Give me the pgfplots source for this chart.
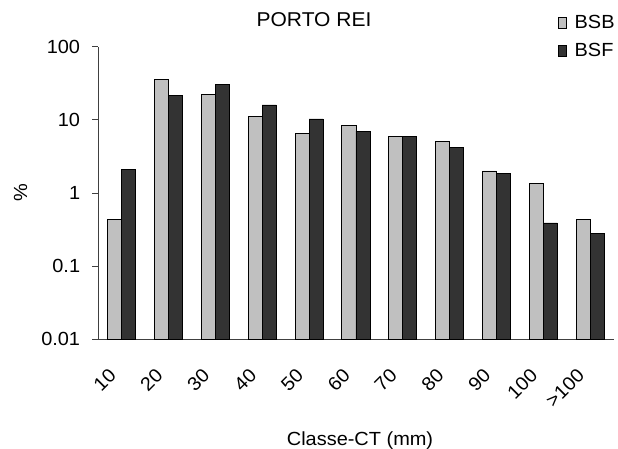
\documentclass[border=0pt]{standalone}
\usepackage{fontspec}
\setmainfont{Liberation Sans}[FakeStretch=1.05]
\usepackage{pgfplots}
\pgfplotsset{compat=1.18}
\newcommand\cf{\fontsize{19}{22}\selectfont}
\definecolor{bsb}{HTML}{C0C0C0}
\definecolor{bsf}{HTML}{333333}

\begin{document}
\begin{tikzpicture}
\begin{axis}[
  name=ax,
  width=515.2pt, height=292.6pt, scale only axis,
  ybar=0pt, bar width=0.3,
  ymode=log, log origin=infty,
  ymin=0.01, ymax=100,
  ytick={0.01,0.1,1,10,100},
  yticklabels={0.01,0.1,1,10,100},
  yminorticks=false,
  xmin=-0.5, xmax=10.5,
  xtick={0,...,10},
  xticklabels={10,20,30,40,50,60,70,80,90,100,>100},
  minor xtick={-0.5,0.5,...,10.5},
  xtick style={draw=none},
  minor tick length=6pt, major tick length=6pt,
  tick align=outside,
  axis lines*=left,
  axis line style={black!75, line width=0.8pt},
  every tick/.style={black!75, line width=0.8pt},
  /pgf/number format/assume math mode=true,
  tick label style={font=\cf},
  yticklabel style={inner sep=0pt, xshift=-12pt},
  xticklabel style={inner sep=0pt, xshift=-14pt, yshift=-22pt, rotate=45, anchor=north east},
  title={PORTO REI},
  title style={font=\fontsize{20}{23}\selectfont, at={(axis description cs:0.4187,1)}, anchor=base, yshift=14pt},
  xlabel={Classe-CT (mm)},
  xlabel style={font=\cf, at={(axis description cs:0.508,0)}, anchor=base, yshift=-105.7pt},
  ylabel={\%},
  ylabel style={font=\cf, at={(axis description cs:-0.151,0.5)}, anchor=center},
  legend style={draw=none, fill=none, font=\cf, at={(axis description cs:0.892,1.115)},
    anchor=north west, cells={anchor=west}, row sep=9pt, column sep=6pt, inner sep=0pt},
  legend image code/.code={\draw[#1, line width=0.6pt] (0pt,-5.5pt) rectangle (8pt,5.5pt);},
]
\addplot[fill=bsb, draw=black, line width=0.8pt] coordinates {
 (0,0.43) (1,36) (2,22) (3,11.0) (4,6.5) (5,8.3) (6,6.0) (7,5.1) (8,2.0) (9,1.34) (10,0.44)
};
\addplot[fill=bsf, draw=black, line width=0.8pt] coordinates {
 (0,2.1) (1,21.4) (2,30.9) (3,16.0) (4,10.3) (5,7.0) (6,6.0) (7,4.2) (8,1.86) (9,0.39) (10,0.28)
};
\legend{BSB,BSF}
\end{axis}
\pgfresetboundingbox
\path ([xshift=-98.3pt,yshift=-108.7pt]ax.south west) rectangle ([xshift=4.5pt,yshift=46.7pt]ax.north east);
\end{tikzpicture}
\end{document}
